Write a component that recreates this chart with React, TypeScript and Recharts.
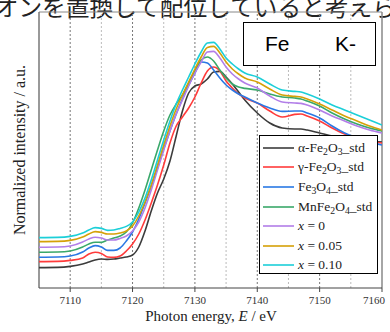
import React from 'react';
import { LineChart, Line, XAxis, YAxis, ReferenceLine } from 'recharts';

// photon energy grid (eV)
const ENERGY = [7105, 7108, 7110, 7112, 7113, 7114, 7115, 7116, 7117, 7118, 7119, 7120, 7121, 7122, 7123, 7124, 7125, 7126, 7127, 7128, 7129, 7130, 7131, 7132, 7133, 7134, 7135, 7136, 7137, 7138, 7140, 7142, 7144, 7146, 7147, 7148, 7150, 7152, 7154, 7156, 7158, 7160];

// normalized intensity (offset)
const ALPHA_FE2O3 = [0.102, 0.103, 0.108, 0.12, 0.13, 0.14, 0.145, 0.143, 0.145, 0.15, 0.155, 0.165, 0.205, 0.285, 0.385, 0.475, 0.545, 0.635, 0.76, 0.885, 0.975, 1.01, 1.02, 1.045, 1.08, 1.083, 1.055, 1.02, 0.98, 0.94, 0.875, 0.825, 0.8, 0.795, 0.795, 0.79, 0.775, 0.76, 0.75, 0.74, 0.735, 0.73];
const GAMMA_FE2O3 = [0.132, 0.133, 0.138, 0.15, 0.17, 0.179, 0.173, 0.155, 0.153, 0.16, 0.185, 0.22, 0.27, 0.34, 0.425, 0.515, 0.615, 0.725, 0.81, 0.855, 0.9, 0.955, 1.025, 1.085, 1.105, 1.085, 1.035, 1.0, 0.97, 0.95, 0.925, 0.885, 0.855, 0.868, 0.87, 0.86, 0.835, 0.8, 0.77, 0.75, 0.735, 0.725];
const FE3O4 = [0.154, 0.155, 0.16, 0.18, 0.2, 0.212, 0.205, 0.188, 0.188, 0.2, 0.235, 0.28, 0.345, 0.425, 0.51, 0.6, 0.695, 0.785, 0.87, 0.945, 1.015, 1.075, 1.13, 1.125, 1.09, 1.05, 1.015, 0.99, 0.97, 0.955, 0.925, 0.9, 0.883, 0.885, 0.885, 0.875, 0.85, 0.81, 0.775, 0.75, 0.73, 0.715];
const MNFE2O4 = [0.179, 0.18, 0.185, 0.205, 0.22, 0.229, 0.228, 0.24, 0.25, 0.26, 0.28, 0.325, 0.4, 0.49, 0.59, 0.69, 0.785, 0.865, 0.92, 0.965, 1.025, 1.085, 1.14, 1.155, 1.135, 1.09, 1.05, 1.02, 1.005, 0.998, 0.99, 0.97, 0.955, 0.95, 0.945, 0.935, 0.91, 0.875, 0.845, 0.82, 0.8, 0.785];
const X_000 = [0.204, 0.205, 0.21, 0.23, 0.245, 0.254, 0.25, 0.24, 0.24, 0.248, 0.26, 0.285, 0.33, 0.4, 0.49, 0.59, 0.69, 0.785, 0.87, 0.94, 1.01, 1.075, 1.13, 1.18, 1.183, 1.15, 1.105, 1.07, 1.045, 1.025, 1.0, 0.96, 0.93, 0.925, 0.923, 0.915, 0.89, 0.86, 0.835, 0.81, 0.79, 0.775];
const X_005 = [0.232, 0.233, 0.238, 0.255, 0.27, 0.282, 0.278, 0.27, 0.27, 0.275, 0.285, 0.31, 0.36, 0.43, 0.515, 0.615, 0.715, 0.81, 0.895, 0.965, 1.03, 1.095, 1.155, 1.203, 1.208, 1.175, 1.13, 1.095, 1.07, 1.05, 1.03, 0.995, 0.965, 0.958, 0.955, 0.945, 0.92, 0.89, 0.86, 0.835, 0.81, 0.79];
const X_010 = [0.252, 0.253, 0.258, 0.275, 0.29, 0.302, 0.298, 0.288, 0.29, 0.298, 0.308, 0.33, 0.38, 0.45, 0.54, 0.64, 0.74, 0.835, 0.92, 0.99, 1.055, 1.12, 1.18, 1.225, 1.228, 1.195, 1.15, 1.12, 1.095, 1.075, 1.055, 1.02, 0.99, 0.983, 0.98, 0.97, 0.945, 0.915, 0.89, 0.865, 0.84, 0.815];

const X_TICKS = [7105, 7110, 7115, 7120, 7125, 7130, 7135, 7140, 7145, 7150, 7155, 7160];
const GRID_X = [7110, 7115, 7120, 7125, 7130, 7135, 7140, 7145, 7150, 7155];

const serif = '"Liberation Serif", "Times New Roman", serif';

const sub = (t: string) => <sub style={{ fontSize: '0.72em', verticalAlign: '-0.3em', lineHeight: 0 }}>{t}</sub>;

const SERIES = [
  { key: 'a', values: ALPHA_FE2O3, color: '#3c3c3c', label: <>α-Fe{sub('2')}O{sub('3')}_std</> },
  { key: 'g', values: GAMMA_FE2O3, color: '#ff3b3b', label: <>γ-Fe{sub('2')}O{sub('3')}_std</> },
  { key: 'm', values: FE3O4, color: '#2a78e4', label: <>Fe{sub('3')}O{sub('4')}_std</> },
  { key: 'mn', values: MNFE2O4, color: '#3aa86a', label: <>MnFe{sub('2')}O{sub('4')}_std</> },
  { key: 'x0', values: X_000, color: '#b27ee8', label: <><i>x</i> = 0</> },
  { key: 'x5', values: X_005, color: '#d5a108', label: <><i>x</i> = 0.05</> },
  { key: 'x10', values: X_010, color: '#1ccfd8', label: <><i>x</i> = 0.10</> },
];

const data = ENERGY.map((e, i) => {
  const row: Record<string, number> = { energy: e };
  SERIES.forEach(s => { row[s.key] = s.values[i]; });
  return row;
});

const XTick = (props: any) => {
  const { x, y, payload } = props;
  if (payload.value % 10 !== 0) return null;
  return (
    <text x={x} y={y + 10} textAnchor="middle" fontFamily={serif} fontSize={11} fill="#333">
      {payload.value}
    </text>
  );
};

const App = () => {
  return (
    <div style={{ position: 'absolute', left: 0, top: 0, width: 390, height: 332, overflow: 'hidden', background: '#fff' }}>
      <div style={{ position: 'absolute', left: -29, top: -8, fontFamily: '"Noto Sans CJK JP", sans-serif', fontSize: 23.7, whiteSpace: 'nowrap', color: '#222', lineHeight: '28px' }}>
        イオンを置換して配位していると考えら
      </div>

      <div style={{ position: 'absolute', left: 0, top: 0 }}>
        <LineChart width={390} height={332} data={data} margin={{ top: 12, right: 8, left: 39, bottom: 0 }}>
          <XAxis
            dataKey="energy"
            type="number"
            domain={[7105, 7160]}
            ticks={X_TICKS}
            tick={<XTick />}
            tickSize={4}
            tickMargin={2}
            height={44}
            stroke="#444"
            allowDataOverflow
          />
          <YAxis hide type="number" domain={[0, 1.38]} allowDataOverflow />
          {GRID_X.map(v => (
            <ReferenceLine key={v} x={v} stroke={v % 10 === 0 ? '#777' : '#bbb'} strokeDasharray="2 2" />
          ))}
          <ReferenceLine y={1.38} stroke="#888" />
          <ReferenceLine x={7105} stroke="#777" strokeWidth={1.5} />
          <ReferenceLine x={7160} stroke="#888" strokeWidth={1.5} />
          {SERIES.map(s => (
            <Line key={s.key} type="monotone" dataKey={s.key} stroke={s.color} strokeWidth={1.6} dot={false} isAnimationActive={false} />
          ))}
        </LineChart>
      </div>

      {/* Fe K- box */}
      <div style={{ position: 'absolute', left: 243, top: 22, width: 131, height: 42, border: '1.5px solid #000', background: '#fff', fontFamily: '"Liberation Sans", Arial, sans-serif', fontSize: 21, color: '#000' }}>
        <span style={{ position: 'absolute', left: 21, top: 9 }}>Fe</span>
        <span style={{ position: 'absolute', left: 91, top: 9 }}>K-</span>
      </div>

      {/* legend */}
      <div style={{ position: 'absolute', left: 259, top: 135, width: 117, height: 137, border: '1px solid #000', background: '#fff', fontFamily: serif, fontSize: 13.5, color: '#222' }}>
        {SERIES.map((s, i) => (
          <div key={s.key} style={{ position: 'absolute', left: 0, top: 2 + i * 19.6, height: 19.6, width: 117, display: 'flex', alignItems: 'center' }}>
            <svg width={35} height={4} style={{ marginLeft: 3 }}>
              <line x1={0} y1={2} x2={31} y2={2} stroke={s.color} strokeWidth={1.6} />
            </svg>
            <span style={{ whiteSpace: 'nowrap' }}>{s.label}</span>
          </div>
        ))}
      </div>

      {/* axis titles */}
      <div style={{ position: 'absolute', left: 20, top: 150, transform: 'translate(-50%, -50%) rotate(-90deg)', fontFamily: serif, fontSize: 16, whiteSpace: 'nowrap', color: '#222' }}>
        Normalized intensity / a.u.
      </div>
      <div style={{ position: 'absolute', left: 211, top: 316, transform: 'translate(-50%, -50%)', fontFamily: serif, fontSize: 15, whiteSpace: 'nowrap', color: '#222' }}>
        Photon energy, <i>E</i> / eV
      </div>
    </div>
  );
};

export default App;
